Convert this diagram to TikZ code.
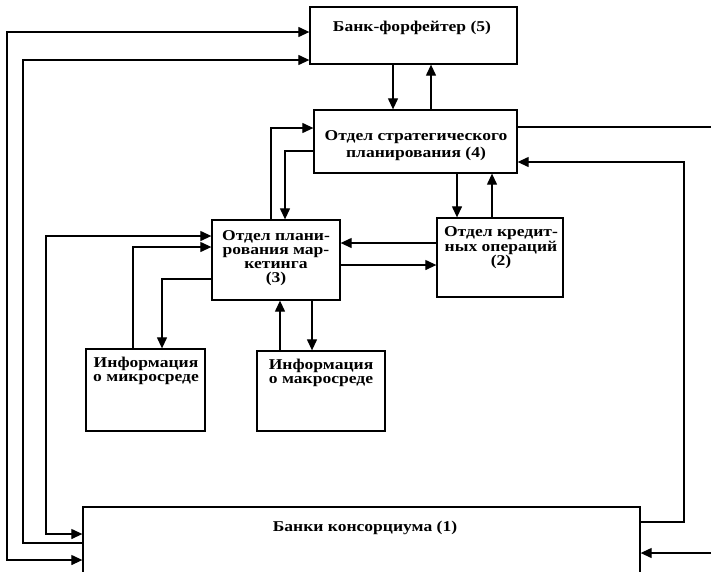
\documentclass[tikz,border=0pt]{standalone}
\usepackage{fontspec}
\setmainfont{Liberation Serif}[FakeStretch=1.17]
\usetikzlibrary{arrows.meta}
\tikzset{
  box/.style={draw, line width=1.3pt, rectangle, inner sep=0pt},
  lbl/.style={font=\bfseries\fontsize{15}{14}\selectfont, align=center, inner sep=0pt},
  conn/.style={line width=1.2pt},
  tip/.tip={Triangle[length=11pt,width=10pt]},
  arr/.style={conn, -tip},
  darr/.style={conn, tip-tip},
}
\begin{document}
\begin{tikzpicture}[x=1pt,y=-1pt]
\useasboundingbox (0,0) rectangle (711,571);
\clip (0,0) rectangle (711,571);
% boxes
\node[box, minimum width=207pt, minimum height=57pt] (b5) at (413.5,35.5) {};
\node[box, minimum width=203pt, minimum height=63pt] (b4) at (415.5,141.5) {};
\node[box, minimum width=128pt, minimum height=80pt] (b3) at (276,260) {};
\node[box, minimum width=126pt, minimum height=79pt] (b2) at (500,257.5) {};
\node[box, minimum width=119pt, minimum height=82pt] (bmi) at (145.5,390) {};
\node[box, minimum width=128pt, minimum height=80pt] (bma) at (321,391) {};
\node[box, minimum width=557pt, minimum height=93pt] (b1) at (361.5,553.5) {};
% labels
\node[lbl] (t5) at (412,28) {Банк-форфейтер (5)};
\node[lbl, font=\bfseries\fontsize{15}{17}\selectfont] (t4) at (416,146) {Отдел стратегического\\планирования (4)};
\node[lbl] (t3) at (276,258) {Отдел плани-\\рования мар-\\кетинга\\(3)};
\node[lbl, font=\bfseries\fontsize{15}{14.5}\selectfont] (t2) at (501,248) {Отдел кредит-\\ных операций\\(2)};
\node[lbl] (tmi) at (146,370.5) {Информация\\о микросреде};
\node[lbl] (tma) at (321,373) {Информация\\о макросреде};
\node[lbl] (t1) at (365,528) {Банки консорциума (1)};
% free ends
\coordinate (e4) at (711,127);
\coordinate (e1) at (711,553);
% connectors
\draw[darr] (b5.west |- 0,32) -| (7,560) -- (b1.west |- 0,560);
\draw[arr] (b1.west |- 0,543) -| (23,60) -- (b5.west |- 0,60);
\draw[darr] (b3.west |- 0,236) -| (46,534) -- (b1.west |- 0,534);
\draw[arr] (bmi.north -| 133,0) |- (b3.west |- 0,247);
\draw[arr] (b3.west |- 0,279) -| (bmi.north -| 162,0);
\draw[arr] (bma.north -| 280,0) -- (b3.south -| 280,0);
\draw[arr] (b3.south -| 312,0) -- (bma.north -| 312,0);
\draw[arr] (b3.north -| 271,0) |- (b4.west |- 0,128);
\draw[arr] (b4.west |- 0,151) -| (b3.north -| 285,0);
\draw[arr] (b5.south -| 393,0) -- (b4.north -| 393,0);
\draw[arr] (b4.north -| 431,0) -- (b5.south -| 431,0);
\draw[arr] (b4.south -| 457,0) -- (b2.north -| 457,0);
\draw[arr] (b2.north -| 492,0) -- (b4.south -| 492,0);
\draw[arr] (b2.west |- 0,243) -- (b3.east |- 0,243);
\draw[arr] (b3.east |- 0,265) -- (b2.west |- 0,265);
\draw[conn] (b4.east |- 0,127) -- (e4);
\draw[arr] (b1.east |- 0,522) -| (684,162) -- (b4.east |- 0,162);
\draw[arr] (e1) -- (b1.east |- 0,553);
\end{tikzpicture}
\end{document}
